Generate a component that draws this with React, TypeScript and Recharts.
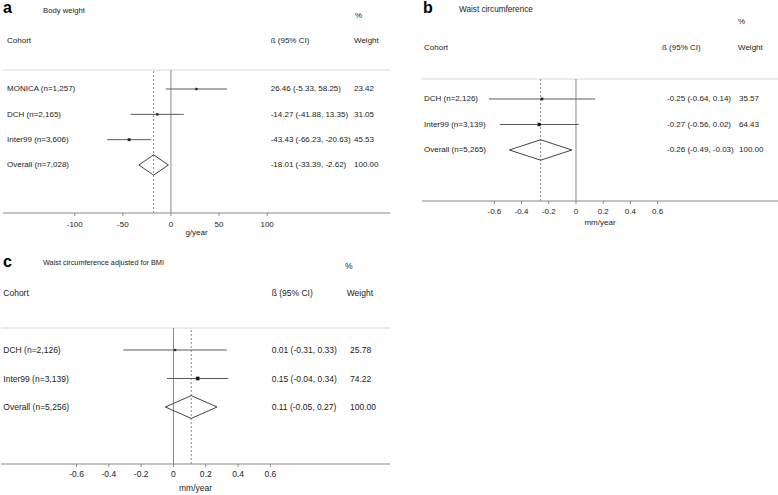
import React from 'react';
import { ScatterChart, Scatter, XAxis, YAxis, ReferenceLine, ErrorBar } from 'recharts';

const FONT = '"Liberation Sans", Arial, Helvetica, sans-serif';

// ---------- Panel a: Body weight ----------
const aCohorts = ['MONICA (n=1,257)', 'DCH (n=2,165)', 'Inter99 (n=3,606)', 'Overall (n=7,028)'];
const aEst = [26.46, -14.27, -43.43, -18.01];
const aLo = [-5.33, -41.88, -66.23, -33.39];
const aHi = [58.25, 13.35, -20.63, -2.62];
const aWeight = [23.42, 31.05, 45.53, 100.0];
const aTicks = [-100, -50, 0, 50, 100];

// ---------- Panel b: Waist circumference ----------
const bCohorts = ['DCH (n=2,126)', 'Inter99 (n=3,139)', 'Overall (n=5,265)'];
const bEst = [-0.25, -0.27, -0.26];
const bLo = [-0.64, -0.56, -0.49];
const bHi = [0.14, 0.02, -0.03];
const bWeight = [35.57, 64.43, 100.0];
const bTicks = [-0.6, -0.4, -0.2, 0, 0.2, 0.4, 0.6];

// ---------- Panel c: Waist circumference adjusted for BMI ----------
const cCohorts = ['DCH (n=2,126)', 'Inter99 (n=3,139)', 'Overall (n=5,256)'];
const cEst = [0.01, 0.15, 0.11];
const cLo = [-0.31, -0.04, -0.05];
const cHi = [0.33, 0.34, 0.27];
const cWeight = [25.78, 74.22, 100.0];
const cTicks = [-0.6, -0.4, -0.2, 0, 0.2, 0.4, 0.6];

const headerCohort = 'Cohort';
const headerCI = 'ß (95% CI)';
const headerPct = '%';
const headerWeight = 'Weight';

type Layout = {
  left: number; top: number; width: number; height: number;
  margin: { top: number; left: number; right: number; bottom: number };
  axisHeight: number; xDomain: [number, number]; yDomain: [number, number];
  fontSize: number; titleSize: number; labelX: number; ciX: number; wX: number;
  tickSize: number; tickMargin: number; unitOffset: number;
  letterX: number; letterY: number; titleX: number; titleY: number;
  pctX: number; pctY: number; headY: number; cohortX: number; ciHeadX: number; weightHeadX: number;
};

const layoutA: Layout = {
  left: 0, top: 0, width: 392, height: 245,
  margin: { top: 70, left: 3, right: 2, bottom: 8 }, axisHeight: 24,
  xDomain: [-174.6, 227.7], yDomain: [0.25, 5.895],
  fontSize: 8, titleSize: 7.7, labelX: 7, ciX: 270.7, wX: 354,
  tickSize: 3, tickMargin: 5, unitOffset: 2,
  letterX: 3, letterY: 13, titleX: 43, titleY: 10,
  pctX: 355, pctY: 15, headY: 40, cohortX: 7, ciHeadX: 270.7, weightHeadX: 354,
};

const layoutB: Layout = {
  left: 400, top: 0, width: 378, height: 240,
  margin: { top: 79, left: 22, right: 0, bottom: 13 }, axisHeight: 26,
  xDomain: [-1.132, 1.485], yDomain: [0.216, 5.0],
  fontSize: 8, titleSize: 8.2, labelX: 24, ciX: 267, wX: 339,
  tickSize: 3, tickMargin: 4, unitOffset: 2.4,
  letterX: 423, letterY: 12.5, titleX: 459, titleY: 9.3,
  pctX: 738, pctY: 21.7, headY: 47.3, cohortX: 424, ciHeadX: 662, weightHeadX: 738,
};

const layoutC: Layout = {
  left: 0, top: 245, width: 392, height: 250,
  margin: { top: 83, left: 1, right: 2, bottom: 2 }, axisHeight: 29,
  xDomain: [-1.068, 1.341], yDomain: [0.228, 5.0],
  fontSize: 8.5, titleSize: 7.3, labelX: 3.3, ciX: 271.7, wX: 350,
  tickSize: 3, tickMargin: 4, unitOffset: 1.6,
  letterX: 3, letterY: 266.7, titleX: 43, titleY: 262.3,
  pctX: 345, pctY: 265.7, headY: 293.3, cohortX: 3.3, ciHeadX: 271.7, weightHeadX: 346.7,
};

const fmt = (v: number) => v.toFixed(2);
const DIAMOND_HALF = 0.4;

type PanelProps = {
  lay: Layout; cohorts: string[]; est: number[]; lo: number[]; hi: number[];
  weight: number[]; ticks: number[]; unit: string;
};

function Panel({ lay, cohorts, est, lo, hi, weight, ticks, unit }: PanelProps) {
  const n = cohorts.length;
  const rows = cohorts.map((c, i) => ({
    x: est[i],
    y: i + 1,
    label: c,
    ci: `${fmt(est[i])} (${fmt(lo[i])}, ${fmt(hi[i])})`,
    w: weight[i].toFixed(2),
    err: [est[i] - lo[i], hi[i] - est[i]],
    box: Math.max(2, Math.sqrt(weight[i]) * 0.38),
  }));
  const studies = rows.slice(0, n - 1);
  const o = n - 1;
  const diamond = [
    { x: lo[o], y: n },
    { x: est[o], y: n - DIAMOND_HALF },
    { x: hi[o], y: n },
    { x: est[o], y: n + DIAMOND_HALF },
    { x: lo[o], y: n },
  ];

  const rowText = (props: any) => {
    const { cy, payload } = props;
    return (
      <g fontSize={lay.fontSize} fill="#222">
        <text x={lay.labelX} y={cy} dominantBaseline="central">{payload.label}</text>
        <text x={lay.ciX} y={cy} dominantBaseline="central">{payload.ci}</text>
        <text x={lay.wX} y={cy} dominantBaseline="central">{payload.w}</text>
      </g>
    );
  };

  const square = (props: any) => {
    const { cx, cy, payload } = props;
    const s = payload.box;
    return <rect x={cx - s / 2} y={cy - s / 2} width={s} height={s} fill="#111" stroke="#555" strokeWidth={0.4} />;
  };

  return (
    <div style={{ position: 'absolute', left: lay.left, top: lay.top, width: lay.width, height: lay.height }}>
      <ScatterChart width={lay.width} height={lay.height} margin={lay.margin}>
        <XAxis
          type="number"
          dataKey="x"
          domain={lay.xDomain}
          ticks={ticks}
          interval={0}
          allowDataOverflow
          height={lay.axisHeight}
          tickSize={lay.tickSize}
          tickMargin={lay.tickMargin}
          tick={{ fontSize: lay.fontSize, fill: '#222' }}
          tickLine={{ stroke: '#888' }}
          axisLine={{ stroke: '#888' }}
          label={{ value: unit, position: 'insideBottom', offset: lay.unitOffset, fontSize: lay.fontSize, fill: '#222' }}
        />
        <YAxis type="number" dataKey="y" domain={lay.yDomain} reversed hide allowDataOverflow />
        <ReferenceLine y={lay.yDomain[0]} stroke="#d8d8d8" strokeWidth={1.2} />
        <ReferenceLine x={0} stroke="#888" strokeWidth={1} />
        <ReferenceLine x={est[o]} stroke="#888" strokeWidth={1} strokeDasharray="2 2" />
        <Scatter data={studies} isAnimationActive={false} shape={square}>
          <ErrorBar dataKey="err" direction="x" width={0} stroke="#5a5a5a" strokeWidth={1} />
        </Scatter>
        <Scatter
          data={diamond}
          isAnimationActive={false}
          line={{ stroke: '#444', strokeWidth: 1 }}
          lineType="joint"
          shape={() => <g />}
        />
        <Scatter data={rows} isAnimationActive={false} shape={rowText} />
      </ScatterChart>
    </div>
  );
}

function Headers({ lay, letter, title }: { lay: Layout; letter: string; title: string }) {
  return (
    <g fill="#222">
      <text x={lay.letterX} y={lay.letterY} fontSize={16} fontWeight="bold" fill="#000">{letter}</text>
      <text x={lay.titleX} y={lay.titleY} fontSize={lay.titleSize} dominantBaseline="central">{title}</text>
      <text x={lay.pctX} y={lay.pctY} fontSize={lay.fontSize} dominantBaseline="central">{headerPct}</text>
      <text x={lay.cohortX} y={lay.headY} fontSize={lay.fontSize} dominantBaseline="central">{headerCohort}</text>
      <text x={lay.ciHeadX} y={lay.headY} fontSize={lay.fontSize} dominantBaseline="central">{headerCI}</text>
      <text x={lay.weightHeadX} y={lay.headY} fontSize={lay.fontSize} dominantBaseline="central">{headerWeight}</text>
    </g>
  );
}

export default function App() {
  return (
    <div
      style={{
        position: 'absolute', left: 0, top: 0, width: 778, height: 495,
        background: '#fff', fontFamily: FONT, overflow: 'hidden',
      }}
    >
      <Panel lay={layoutA} cohorts={aCohorts} est={aEst} lo={aLo} hi={aHi} weight={aWeight} ticks={aTicks} unit="g/year" />
      <Panel lay={layoutB} cohorts={bCohorts} est={bEst} lo={bLo} hi={bHi} weight={bWeight} ticks={bTicks} unit="mm/year" />
      <Panel lay={layoutC} cohorts={cCohorts} est={cEst} lo={cLo} hi={cHi} weight={cWeight} ticks={cTicks} unit="mm/year" />
      <svg width={778} height={495} style={{ position: 'absolute', left: 0, top: 0, pointerEvents: 'none' }}>
        <Headers lay={layoutA} letter="a" title="Body weight" />
        <Headers lay={layoutB} letter="b" title="Waist circumference" />
        <Headers lay={layoutC} letter="c" title="Waist circumference adjusted for BMI" />
      </svg>
    </div>
  );
}
